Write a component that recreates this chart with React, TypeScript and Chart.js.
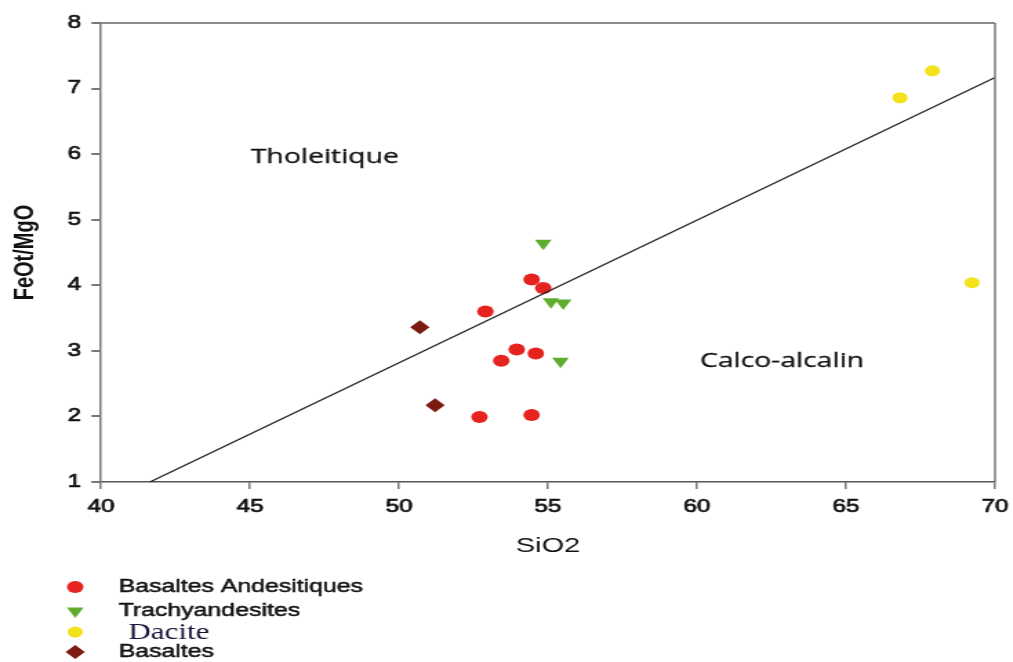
import React, { useEffect, useRef } from 'react';
import { Chart, registerables } from 'chart.js';
Chart.register(...registerables);

// ---------- data ----------
const xTitle = 'SiO2';
const yTitle = 'FeOt/MgO';
const xMin = 40;
const xMax = 70;
const xStep = 5;
const yMin = 1;
const yMax = 8;
const yStep = 1;

const seriesNames = ['Basaltes Andesitiques', 'Trachyandesites', 'Dacite', 'Basaltes'];

const basAndSiO2 = [54.45, 54.84, 52.9, 53.95, 54.59, 53.43, 52.7, 54.45];
const basAndFeMg = [4.09, 3.96, 3.6, 3.02, 2.96, 2.85, 1.99, 2.02];

const trachySiO2 = [54.84, 55.1, 55.51, 55.42];
const trachyFeMg = [4.64, 3.75, 3.73, 2.84];

const daciteSiO2 = [67.9, 66.81, 69.23];
const daciteFeMg = [7.27, 6.86, 4.04];

const basaltSiO2 = [50.7, 51.21];
const basaltFeMg = [3.36, 2.17];

const boundarySiO2 = [41.64, 70];
const boundaryFeMg = [1, 7.17];

const fieldLabels = ['Tholeitique', 'Calco-alcalin'];
const fieldSiO2 = [45.03, 60.1];
const fieldFeMg = [5.96, 2.85];

// ---------- styles ----------
const STRETCH = 1.38;
const W = 1013;
const H = 662;
const CW = Math.round(W / STRETCH);

const colors = ['#e5231f', '#5fad2e', '#f2e11b', '#7a1a10'];
const shapes = ['circle', 'triangle', 'circle', 'rectRot'];
const radii = [6, 7, 5.5, 7];
const rotations = [0, 180, 0, 0];

const SANS = '"Liberation Sans", Arial, sans-serif';

const toPts = (xs: number[], ys: number[]) => xs.map((x, i) => ({ x, y: ys[i] }));

function drawMarker(ctx: CanvasRenderingContext2D, shape: string, x: number, y: number, r: number, rot: number) {
  ctx.beginPath();
  if (shape === 'circle') {
    ctx.arc(x, y, r, 0, Math.PI * 2);
  } else if (shape === 'triangle') {
    const s = rot === 180 ? -1 : 1;
    ctx.moveTo(x, y - s * r);
    ctx.lineTo(x + r * Math.sin((2 * Math.PI) / 3), y + s * r * 0.5);
    ctx.lineTo(x - r * Math.sin((2 * Math.PI) / 3), y + s * r * 0.5);
    ctx.closePath();
  } else {
    ctx.moveTo(x - r, y);
    ctx.lineTo(x, y - r);
    ctx.lineTo(x + r, y);
    ctx.lineTo(x, y + r);
    ctx.closePath();
  }
  ctx.fill();
}

const decorPlugin = {
  id: 'decor',
  afterDatasetsDraw(chart: any) {
    const { ctx, chartArea, scales } = chart;
    ctx.save();
    ctx.strokeStyle = '#666';
    ctx.lineWidth = 1.6;
    ctx.beginPath();
    ctx.moveTo(chartArea.left, chartArea.top);
    ctx.lineTo(chartArea.right, chartArea.top);
    ctx.stroke();
    ctx.lineWidth = 1.5;
    ctx.strokeStyle = '#777';
    ctx.beginPath();
    ctx.moveTo(chartArea.right, chartArea.top);
    ctx.lineTo(chartArea.right, chartArea.bottom);
    ctx.stroke();
    ctx.fillStyle = '#111';
    ctx.strokeStyle = '#111';
    ctx.lineWidth = 0.3;
    ctx.font = '20.5px "Open Sans", sans-serif';
    ctx.textAlign = 'left';
    ctx.textBaseline = 'middle';
    fieldLabels.forEach((t, i) => {
      const px = scales.x.getPixelForValue(fieldSiO2[i]);
      const py = scales.y.getPixelForValue(fieldFeMg[i]);
      ctx.fillText(t, px, py);
      ctx.strokeText(t, px, py);
    });
    ctx.restore();
  },
  afterDraw(chart: any) {
    const { ctx } = chart;
    ctx.save();
    const rowsY = [587, 611, 632, 652];
    const markerX = 54.5;
    const textX = 86;
    seriesNames.forEach((name, i) => {
      ctx.fillStyle = colors[i];
      drawMarker(ctx, shapes[i], markerX, rowsY[i], radii[i], rotations[i]);
      ctx.textAlign = 'left';
      ctx.textBaseline = 'middle';
      if (i === 2) {
        ctx.fillStyle = '#15153a';
        ctx.font = '22.5px "Liberation Serif", "Times New Roman", serif';
        ctx.fillText(name, 93, rowsY[i] + 1);
      } else {
        ctx.fillStyle = '#111';
        ctx.strokeStyle = '#111';
        ctx.lineWidth = 0.5;
        ctx.font = '18px ' + SANS;
        ctx.fillText(name, textX, rowsY[i]);
        ctx.strokeText(name, textX, rowsY[i]);
      }
    });
    ctx.restore();
  },
};

export default function App() {
  const ref = useRef<HTMLCanvasElement | null>(null);

  useEffect(() => {
    document.body.style.margin = '0';
    const canvas = ref.current;
    if (!canvas) return;
    const sets = [
      toPts(basAndSiO2, basAndFeMg),
      toPts(trachySiO2, trachyFeMg),
      toPts(daciteSiO2, daciteFeMg),
      toPts(basaltSiO2, basaltFeMg),
    ];
    const chart = new Chart(canvas, {
      type: 'scatter',
      data: {
        datasets: [
          {
            type: 'line',
            label: 'boundary',
            data: toPts(boundarySiO2, boundaryFeMg),
            borderColor: '#222',
            borderWidth: 1.3,
            pointRadius: 0,
            fill: false,
          } as any,
          ...sets.map((d, i) => ({
            label: seriesNames[i],
            data: d,
            backgroundColor: colors[i],
            borderColor: colors[i],
            borderWidth: 0,
            pointStyle: shapes[i],
            pointRadius: radii[i],
            pointRotation: rotations[i],
          })),
        ],
      },
      options: {
        responsive: false,
        animation: false,
        devicePixelRatio: 1,
        layout: { padding: { top: 23, right: CW - 721, left: 0, bottom: 100 } },
        plugins: { legend: { display: false }, tooltip: { enabled: false } },
        scales: {
          x: {
            type: 'linear',
            min: xMin,
            max: xMax,
            ticks: {
              stepSize: xStep,
              color: '#111',
              font: { family: SANS, size: 17.5 },
              padding: 8,
              maxRotation: 0,
              textStrokeColor: '#111',
              textStrokeWidth: 0.7,
            },
            grid: { drawOnChartArea: false, drawTicks: true, tickLength: 7, tickColor: '#777', lineWidth: 1.5 },
            border: { display: true, color: '#555', width: 1.6 },
            title: { display: true, text: xTitle, color: '#111', font: { family: SANS, size: 21 }, padding: { top: 0, bottom: 3 } },
            afterFit: (s: any) => {
              s.height = 80;
              s.paddingLeft = 0;
              s.paddingRight = 0;
            },
          },
          y: {
            type: 'linear',
            min: yMin,
            max: yMax,
            ticks: {
              stepSize: yStep,
              color: '#111',
              font: { family: SANS, size: 17.5 },
              padding: 7.5,
              textStrokeColor: '#111',
              textStrokeWidth: 0.7,
            },
            grid: { drawOnChartArea: false, drawTicks: true, tickLength: 7, tickColor: '#777', lineWidth: 2 },
            border: { display: true, color: '#777', width: 1.5 },
            title: {
              display: true,
              text: yTitle,
              color: '#111',
              font: { family: SANS, size: 20, weight: 'bold' },
              padding: { top: 6.5, bottom: 0 },
            },
            afterFit: (s: any) => {
              s.width = 73.2;
              s.paddingTop = 0;
              s.paddingBottom = 0;
            },
          },
        },
      } as any,
      plugins: [decorPlugin],
    });
    return () => chart.destroy();
  }, []);

  return (
    <div style={{ width: W, height: H, overflow: 'hidden', background: '#fff' }}>
      <canvas
        ref={ref}
        width={CW}
        height={H}
        style={{ display: 'block', transform: `scaleX(${STRETCH})`, transformOrigin: '0 0' }}
      />
    </div>
  );
}
